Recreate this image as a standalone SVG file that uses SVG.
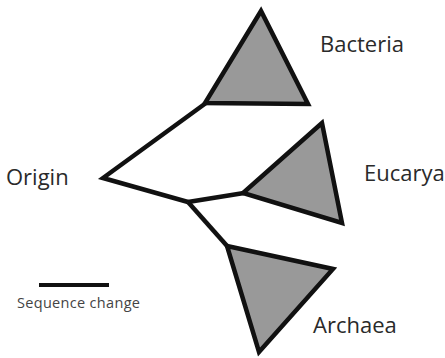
<svg xmlns="http://www.w3.org/2000/svg" width="445" height="358" viewBox="0 0 445 358">
<style>
.clade{fill:#999999;stroke:#111111;stroke-width:4.5;stroke-linejoin:miter;stroke-miterlimit:10}
.branch{fill:none;stroke:#111111;stroke-width:4.5;stroke-linejoin:miter;stroke-linecap:butt;stroke-miterlimit:10}
.lbl{font-family:"Open Sans","Liberation Sans",sans-serif;font-size:22px;fill:#2a2a2a}
.small{font-family:"Open Sans","Liberation Sans",sans-serif;font-size:14.5px;fill:#444444}
</style>
<rect width="445" height="358" fill="#ffffff"/>
<g id="connectors">
<polyline class="branch" points="206,103 103,178 188,202"/>
<line class="branch" x1="188" y1="202" x2="244" y2="193"/>
<line class="branch" x1="188" y1="202" x2="228" y2="247"/>
</g>
<g id="bacteria">
<polygon class="clade" points="261,11 205,103 308,104"/>
<text class="lbl" x="320" y="52">Bacteria</text>
</g>
<g id="eucarya">
<polygon class="clade" points="322,123 243,193 342,223"/>
<text class="lbl" x="364" y="181">Eucarya</text>
</g>
<g id="archaea">
<polygon class="clade" points="227,246 333,269 259,352"/>
<text class="lbl" x="313" y="333">Archaea</text>
</g>
<g id="origin">
<text class="lbl" x="6" y="185">Origin</text>
</g>
<g id="scale">
<line x1="39" y1="285" x2="109" y2="285" stroke="#111111" stroke-width="4"/>
<text class="small" x="17" y="308" textLength="123">Sequence change</text>
</g>
</svg>
